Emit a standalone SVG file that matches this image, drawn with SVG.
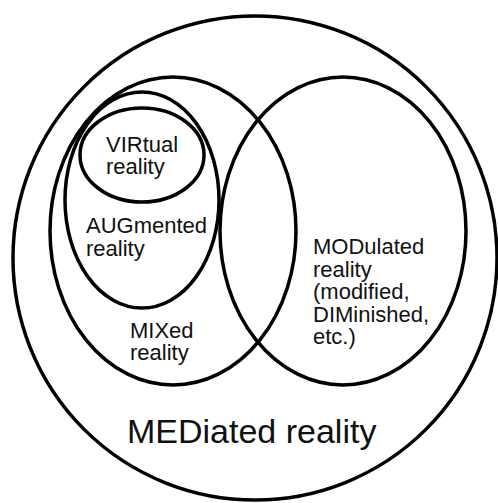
<svg xmlns="http://www.w3.org/2000/svg" width="498" height="503" viewBox="0 0 498 503">
<style>
.set{fill:none;stroke:#000;stroke-width:3.5}
.lbl{font-family:"Liberation Sans",Arial,sans-serif;font-size:22px;fill:#111}
.big{font-family:"Liberation Sans",Arial,sans-serif;font-size:34px;fill:#111}
</style>
<rect width="498" height="503" fill="#fff"/>
<g id="mediated">
<circle class="set" cx="255" cy="258" r="242"/>
<text class="big" x="127" y="443">MEDiated reality</text>
</g>
<g id="mixed">
<ellipse class="set" cx="173" cy="231" rx="123" ry="154"/>
<text class="lbl" x="130" y="338">MIXed</text>
<text class="lbl" x="130" y="360">reality</text>
</g>
<g id="modulated">
<ellipse class="set" cx="343" cy="231" rx="123" ry="154"/>
<text class="lbl" x="313" y="254">MODulated</text>
<text class="lbl" x="313" y="277">reality</text>
<text class="lbl" x="313" y="299">(modified,</text>
<text class="lbl" x="313" y="322">DIMinished,</text>
<text class="lbl" x="313" y="344">etc.)</text>
</g>
<g id="augmented">
<ellipse class="set" cx="142" cy="200" rx="77" ry="108"/>
<text class="lbl" x="86" y="233">AUGmented</text>
<text class="lbl" x="86" y="256">reality</text>
</g>
<g id="virtual">
<ellipse class="set" cx="142" cy="155" rx="62" ry="47"/>
<text class="lbl" x="106" y="152">VIRtual</text>
<text class="lbl" x="106" y="174">reality</text>
</g>
<g id="connectors"/>
</svg>
